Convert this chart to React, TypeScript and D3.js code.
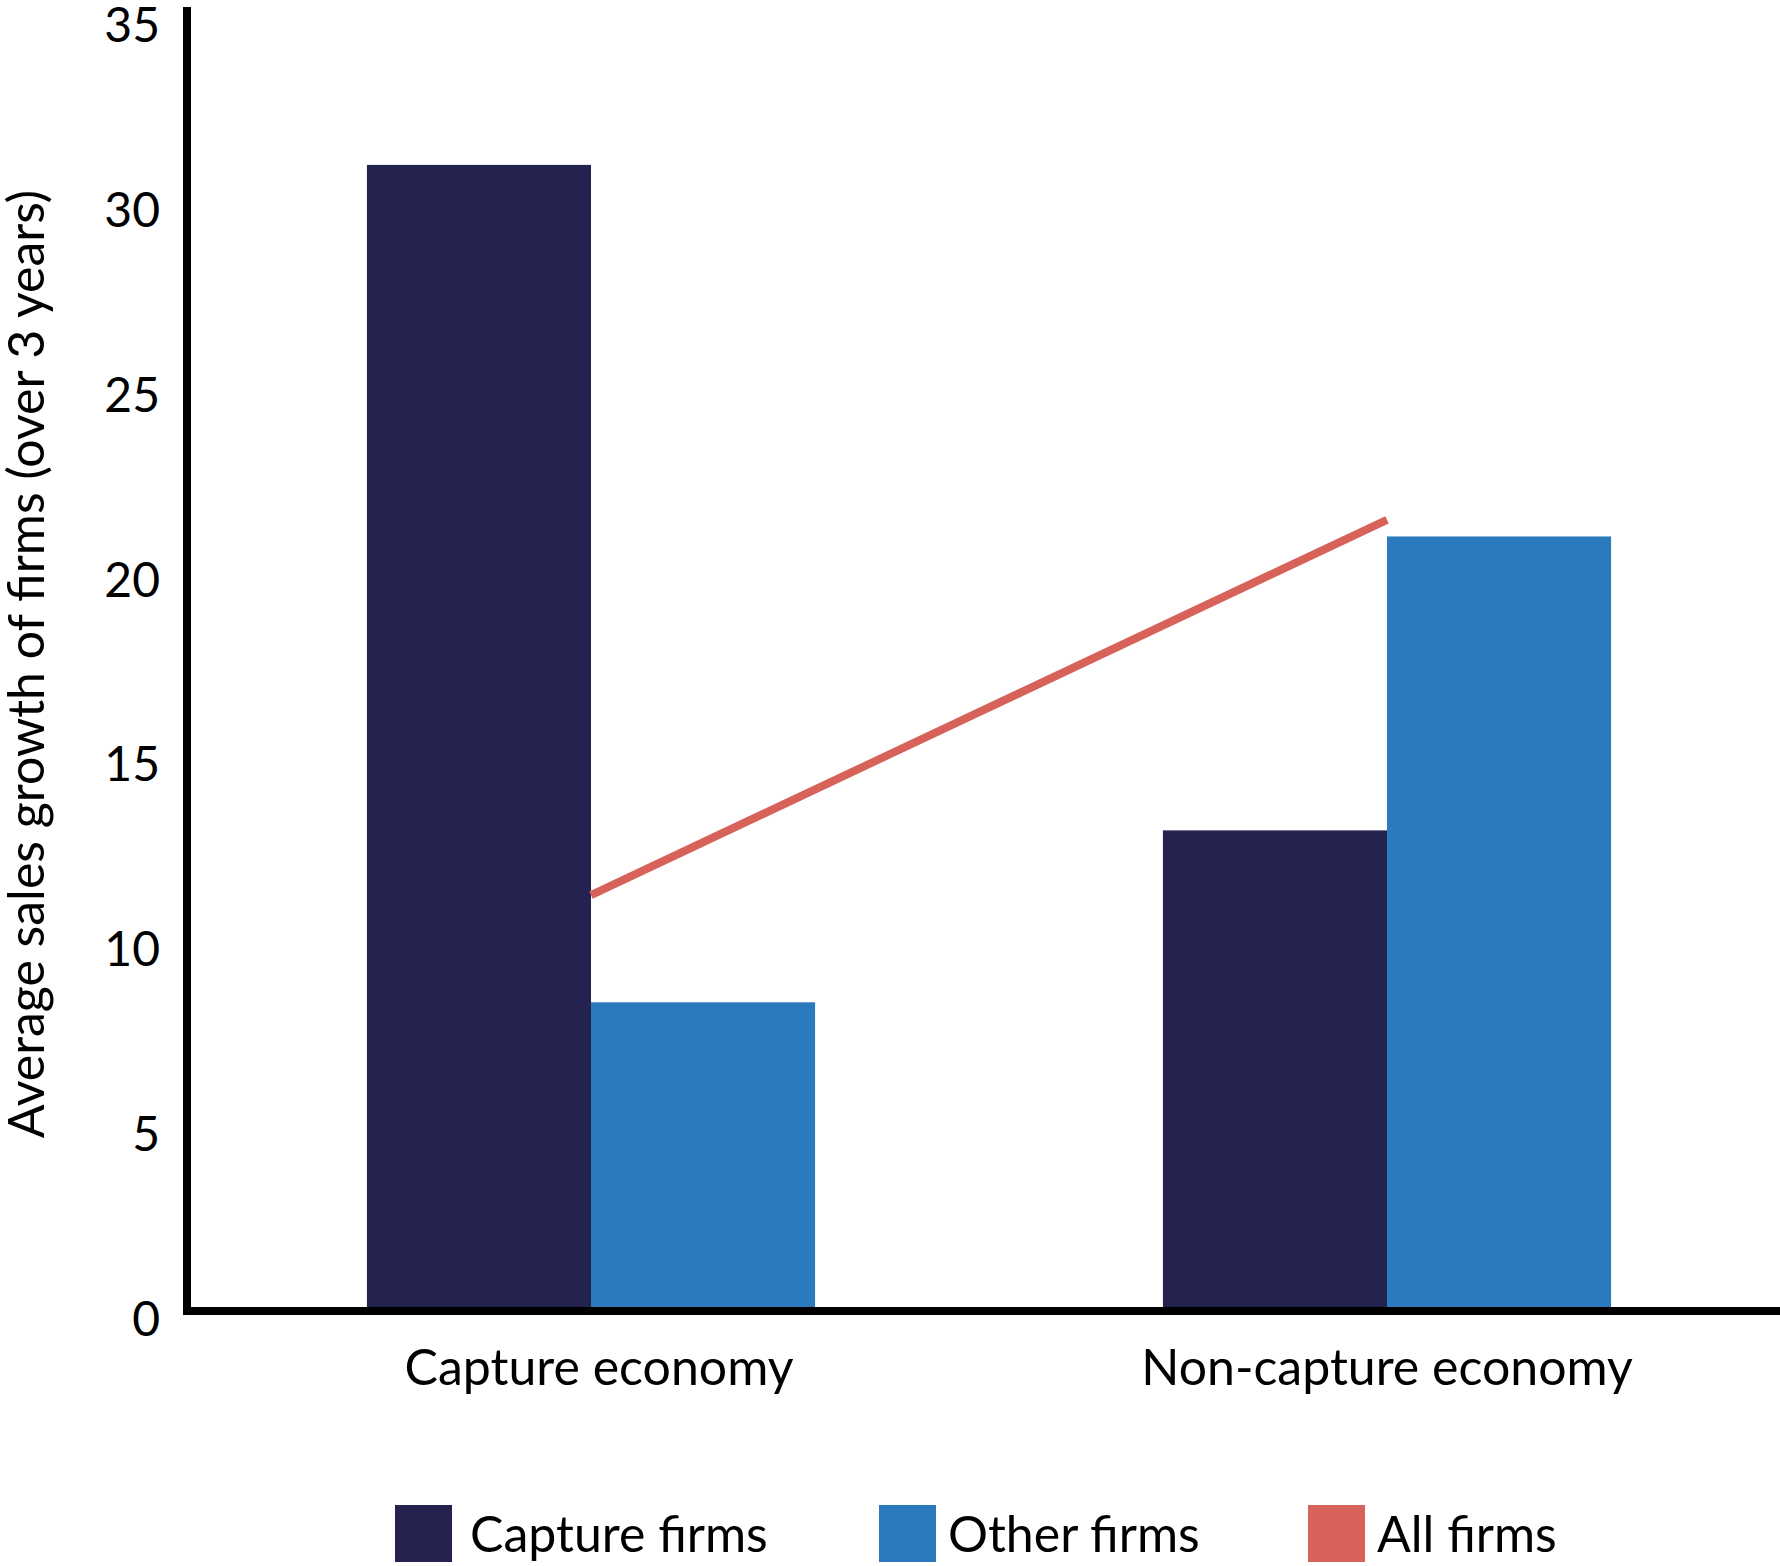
import React from "react";
import * as d3 from "d3";

const categories = ["Capture economy", "Non-capture economy"];
const seriesNames = ["Capture firms", "Other firms"];
const captureFirms = [31.0, 13.0];
const otherFirms = [8.35, 20.95];
const allFirms = [11.25, 21.4];
const yTicks = [0, 5, 10, 15, 20, 25, 30, 35];
const legendLabels = ["Capture firms", "Other firms", "All firms"];
const yTitle = "Average sales growth of firms (over 3 years)";

const colors = ["#24234F", "#2B7ABD", "#D6625A"];
const W = 1780;
const H = 1566;
const FONT = "Lato, 'Noto Sans', sans-serif";

export default function App() {
  const y = d3.scaleLinear().domain([0, 35]).range([1311, 17]);
  const x0 = d3
    .scaleBand<string>()
    .domain(categories)
    .range([193, 1785])
    .paddingInner(0.437)
    .paddingOuter(0.2185);
  const x1 = d3
    .scaleBand<string>()
    .domain(seriesNames)
    .range([0, x0.bandwidth()])
    .padding(0);
  const series = [captureFirms, otherFirms];

  const line = d3
    .line<number>()
    .x((_, i) => (x0(categories[i]) as number) + x0.bandwidth() / 2)
    .y((d) => y(d));

  const legendX = [395, 879, 1308];
  const legendTextX = [470, 948, 1377];
  const catLabelDx = [8, 0];

  return (
    <svg
      width={W}
      height={H}
      style={{ position: "absolute", left: 0, top: 0, background: "#fff" }}
      fontFamily={FONT}
    >
      <rect x={0} y={0} width={W} height={H} fill="#fff" />
      {categories.map((c, ci) =>
        seriesNames.map((s, si) => (
          <rect
            key={c + s}
            x={(x0(c) as number) + (x1(s) as number)}
            y={y(series[si][ci])}
            width={x1.bandwidth()}
            height={y(0) - y(series[si][ci])}
            fill={colors[si]}
          />
        ))
      )}
      <path d={line(allFirms) || ""} fill="none" stroke={colors[2]} strokeWidth={8} />
      {/* axes */}
      <line x1={187} x2={187} y1={7} y2={1315} stroke="#000" strokeWidth={8} />
      <line x1={183} x2={W} y1={1311} y2={1311} stroke="#000" strokeWidth={8} />
      {yTicks.map((t) => (
        <text key={t} x={160} y={y(t) + 25} textAnchor="end" fontSize={48} fill="#000">
          {t}
        </text>
      ))}
      <text
        transform={`translate(44,664) rotate(-90)`}
        textAnchor="middle"
        fontSize={50}
        fill="#000"
      >
        {yTitle}
      </text>
      {categories.map((c, i) => (
        <text
          key={c}
          x={(x0(c) as number) + x0.bandwidth() / 2 + catLabelDx[i]}
          y={1385}
          textAnchor="middle"
          fontSize={50}
          fill="#000"
        >
          {c}
        </text>
      ))}
      {legendLabels.map((l, i) => (
        <g key={l}>
          <rect x={legendX[i]} y={1505} width={57} height={57} fill={colors[i]} />
          <text x={legendTextX[i]} y={1552} fontSize={50} fill="#000">
            {l}
          </text>
        </g>
      ))}
    </svg>
  );
}
